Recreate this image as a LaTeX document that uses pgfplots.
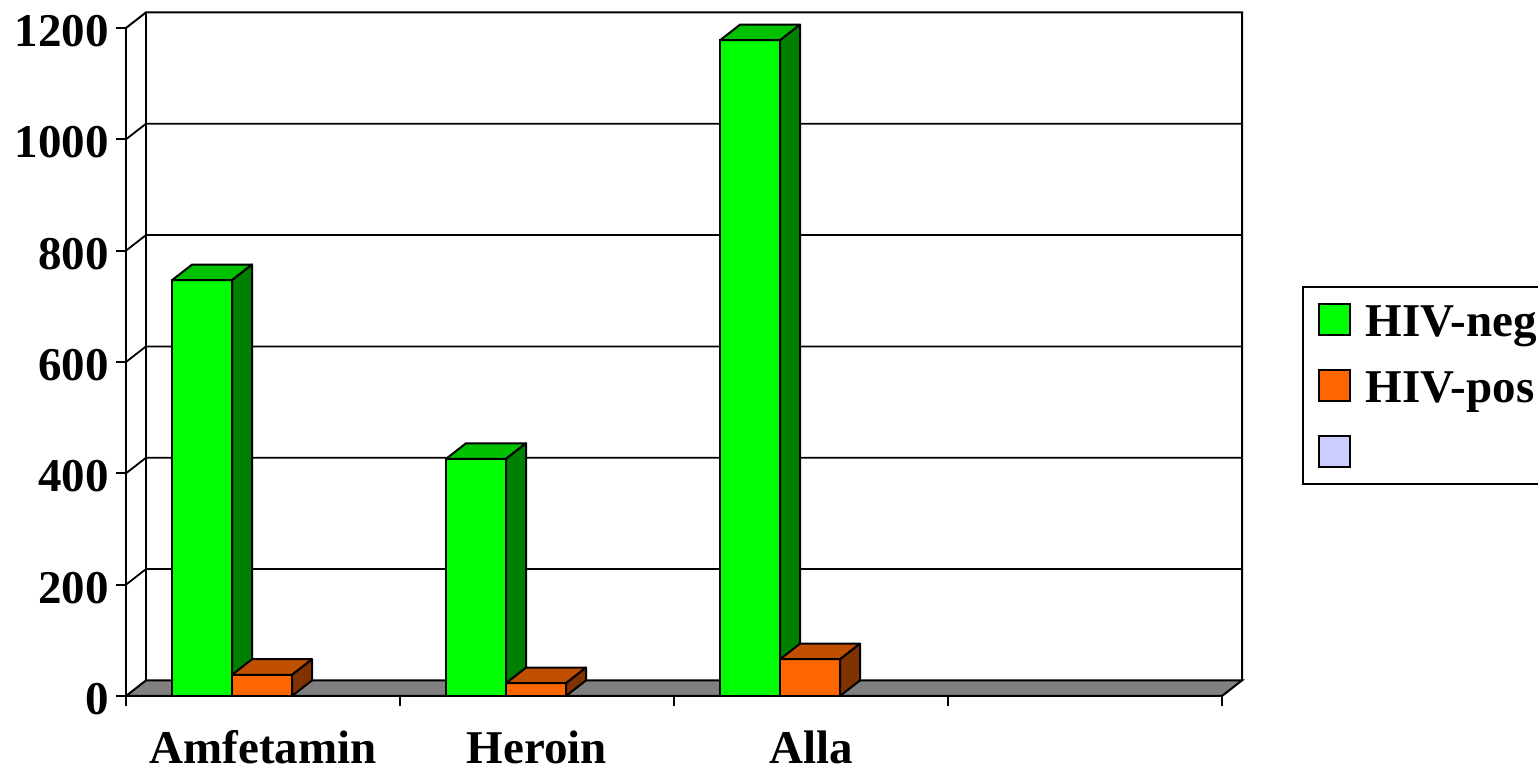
\documentclass[border=0pt]{standalone}
\usepackage{pgfplots}
\pgfplotsset{compat=1.18}
\usepackage{fontspec}
\setmainfont{Liberation Serif}
\definecolor{gfront}{HTML}{00FF00}
\definecolor{gtop}{HTML}{00C000}
\definecolor{gside}{HTML}{008000}
\definecolor{ofront}{HTML}{FF6600}
\definecolor{otop}{HTML}{C04F00}
\definecolor{oside}{HTML}{803300}
\definecolor{lav}{HTML}{CCCCFF}
\definecolor{floorgray}{HTML}{808080}
\newcommand\chartfont{\bfseries\fontsize{23.5}{28}\selectfont}
\def\DX{0.073}
\def\DY{28}
\def\BW{0.219}
% #1 left edge of the bar, #2 value, #3 top colour, #4 side colour
\newcommand\barfaces[4]{%
  \pgfmathsetmacro\xa{#1}%
  \pgfmathsetmacro\xb{#1+\BW}%
  \pgfmathsetmacro\xc{#1+\BW+\DX}%
  \pgfmathsetmacro\xd{#1+\DX}%
  \pgfmathsetmacro\yt{#2+\DY}%
  \edef\doit{%
    \noexpand\addplot[forget plot, fill=#3, draw=black, line width=1pt, line join=round]
      coordinates {(\xa,#2) (\xb,#2) (\xc,\yt) (\xd,\yt)} -- cycle;
    \noexpand\addplot[forget plot, fill=#4, draw=black, line width=1pt, line join=round]
      coordinates {(\xb,0) (\xc,\DY) (\xc,\yt) (\xb,#2)} -- cycle;
  }\doit}
\begin{document}
\begin{tikzpicture}
\useasboundingbox (0,0) rectangle (769pt,384.5pt);
\begin{axis}[
  at={(63pt,36.5pt)}, anchor=south west,
  scale only axis, width=548pt, height=334pt,
  xmin=0, xmax=4, ymin=0, ymax=1200,
  clip=false,
  axis lines=left,
  axis line style={-, line width=1pt},
  tick align=outside,
  major tick length=5pt,
  tick style={line width=1pt, black},
  ytick={0,200,...,1200},
  xtick={0,1,2,3,4},
  xticklabels={,,,,},
  extra x ticks={0.5,1.5,2.5},
  extra x tick labels={Amfetamin,Heroin,Alla},
  extra x tick style={major tick length=0pt,
    tick label style={anchor=base, yshift=-34pt, inner sep=0pt}},
  /pgf/number format/assume math mode=true,
  /pgf/number format/1000 sep={},
  tick label style={font=\chartfont},
  yticklabel style={anchor=east, inner sep=0pt, xshift=-3.5pt, yshift=-1.5pt},
  legend style={at={(1.073,0.6138)}, anchor=north west, draw=black,
    line width=1pt, inner xsep=7.5pt, inner ysep=3.75pt,
    row sep=8pt, column sep=7.5pt,
    nodes={inner sep=0pt, text height=21pt, text depth=4pt, font=\chartfont}},
  legend cell align=left,
]
% floor
\addplot[forget plot, fill=floorgray, draw=black, line width=1pt]
  coordinates {(0,0) (4,0) (4.073,28) (0.073,28)} -- cycle;
% gridlines on left and back walls
\addplot[forget plot, draw=black, line width=0.9pt] coordinates {(0,200) (0.073,228) (4.073,228)};
\addplot[forget plot, draw=black, line width=0.9pt] coordinates {(0,400) (0.073,428) (4.073,428)};
\addplot[forget plot, draw=black, line width=0.9pt] coordinates {(0,600) (0.073,628) (4.073,628)};
\addplot[forget plot, draw=black, line width=0.9pt] coordinates {(0,800) (0.073,828) (4.073,828)};
\addplot[forget plot, draw=black, line width=0.9pt] coordinates {(0,1000) (0.073,1028) (4.073,1028)};
\addplot[forget plot, draw=black, line width=1pt] coordinates {(0,1200) (0.073,1228) (4.073,1228) (4.073,28)};
\addplot[forget plot, draw=black, line width=1pt] coordinates {(0.073,28) (0.073,1228)};
% HIV-neg
\addplot[ybar, bar width=0.219, bar shift=0pt, fill=gfront, draw=black, line width=1pt,
  legend image code/.code={\draw[fill=gfront,draw=black,line width=0.8pt] (0pt,-7.75pt) rectangle (15.5pt,7.75pt);}]
  coordinates {(0.2775,747) (1.2775,426) (2.2775,1178)};
\addlegendentry{HIV-neg}
\barfaces{0.168}{747}{gtop}{gside}
\barfaces{1.168}{426}{gtop}{gside}
\barfaces{2.168}{1178}{gtop}{gside}
% HIV-pos
\addplot[ybar, bar width=0.219, bar shift=0pt, fill=ofront, draw=black, line width=1pt,
  legend image code/.code={\draw[fill=ofront,draw=black,line width=0.8pt] (0pt,-7.75pt) rectangle (15.5pt,7.75pt);}]
  coordinates {(0.4965,38) (1.4965,23) (2.4965,66)};
\addlegendentry{HIV-pos}
\barfaces{0.387}{38}{otop}{oside}
\barfaces{1.387}{23}{otop}{oside}
\barfaces{2.387}{66}{otop}{oside}
% third (empty) series
\addlegendimage{legend image code/.code={\draw[fill=lav,draw=black,line width=0.8pt] (0pt,-7.75pt) rectangle (15.5pt,7.75pt);}}
\addlegendentry{}
\end{axis}
\end{tikzpicture}
\end{document}
